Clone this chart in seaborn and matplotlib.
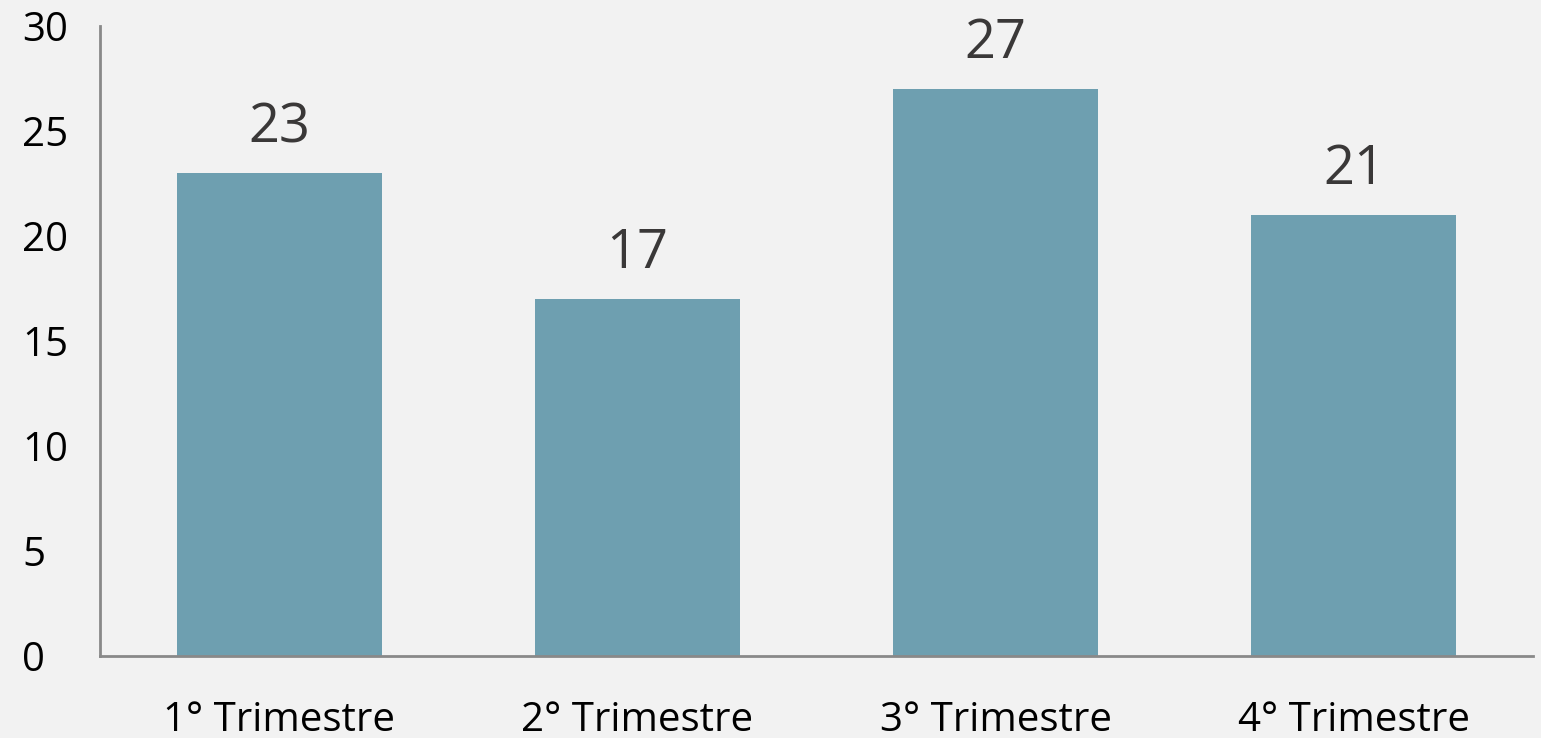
import matplotlib
matplotlib.use("Agg")
import matplotlib.pyplot as plt
import seaborn as sns
import pandas as pd

categories = ["1° Trimestre", "2° Trimestre", "3° Trimestre", "4° Trimestre"]
values = [23, 17, 27, 21]
yticks = [0, 5, 10, 15, 20, 25, 30]

sns.set_style("white")
plt.rcParams['font.family'] = ['Open Sans', 'DejaVu Sans']

bg = "#f2f2f2"
fig = plt.figure(figsize=(15.41, 7.38), dpi=100, facecolor=bg)
ax = fig.add_axes([100/1541, 82/738, 1433/1541, 630/738])
ax.set_facecolor(bg)

df = pd.DataFrame({"cat": categories, "val": values})
sns.barplot(data=df, x="cat", y="val", color="#6e9fb0", saturation=1, width=0.572,
            linewidth=0, ax=ax)

ax.set_xlim(-0.5, 3.5)
ax.set_ylim(0, 30)
ax.set_yticks(yticks)
ax.set_xlabel("")
ax.set_ylabel("")
for s in ["top", "right"]:
    ax.spines[s].set_visible(False)
for s in ["left", "bottom"]:
    ax.spines[s].set_color("#898989")
    ax.spines[s].set_linewidth(2)
ax.tick_params(axis="both", length=0, labelsize=29, colors="black")
ax.tick_params(axis="x", pad=32)
for lab in ax.get_yticklabels():
    lab.set_horizontalalignment("left")
ax.tick_params(axis="y", pad=56)

for i, v in enumerate(values):
    ax.annotate(str(v), (i, v), xytext=(0, 22), textcoords="offset points",
                ha="center", va="baseline", fontsize=39, color="#3a3838")

fig.savefig("out.png", dpi=100, facecolor=bg)
